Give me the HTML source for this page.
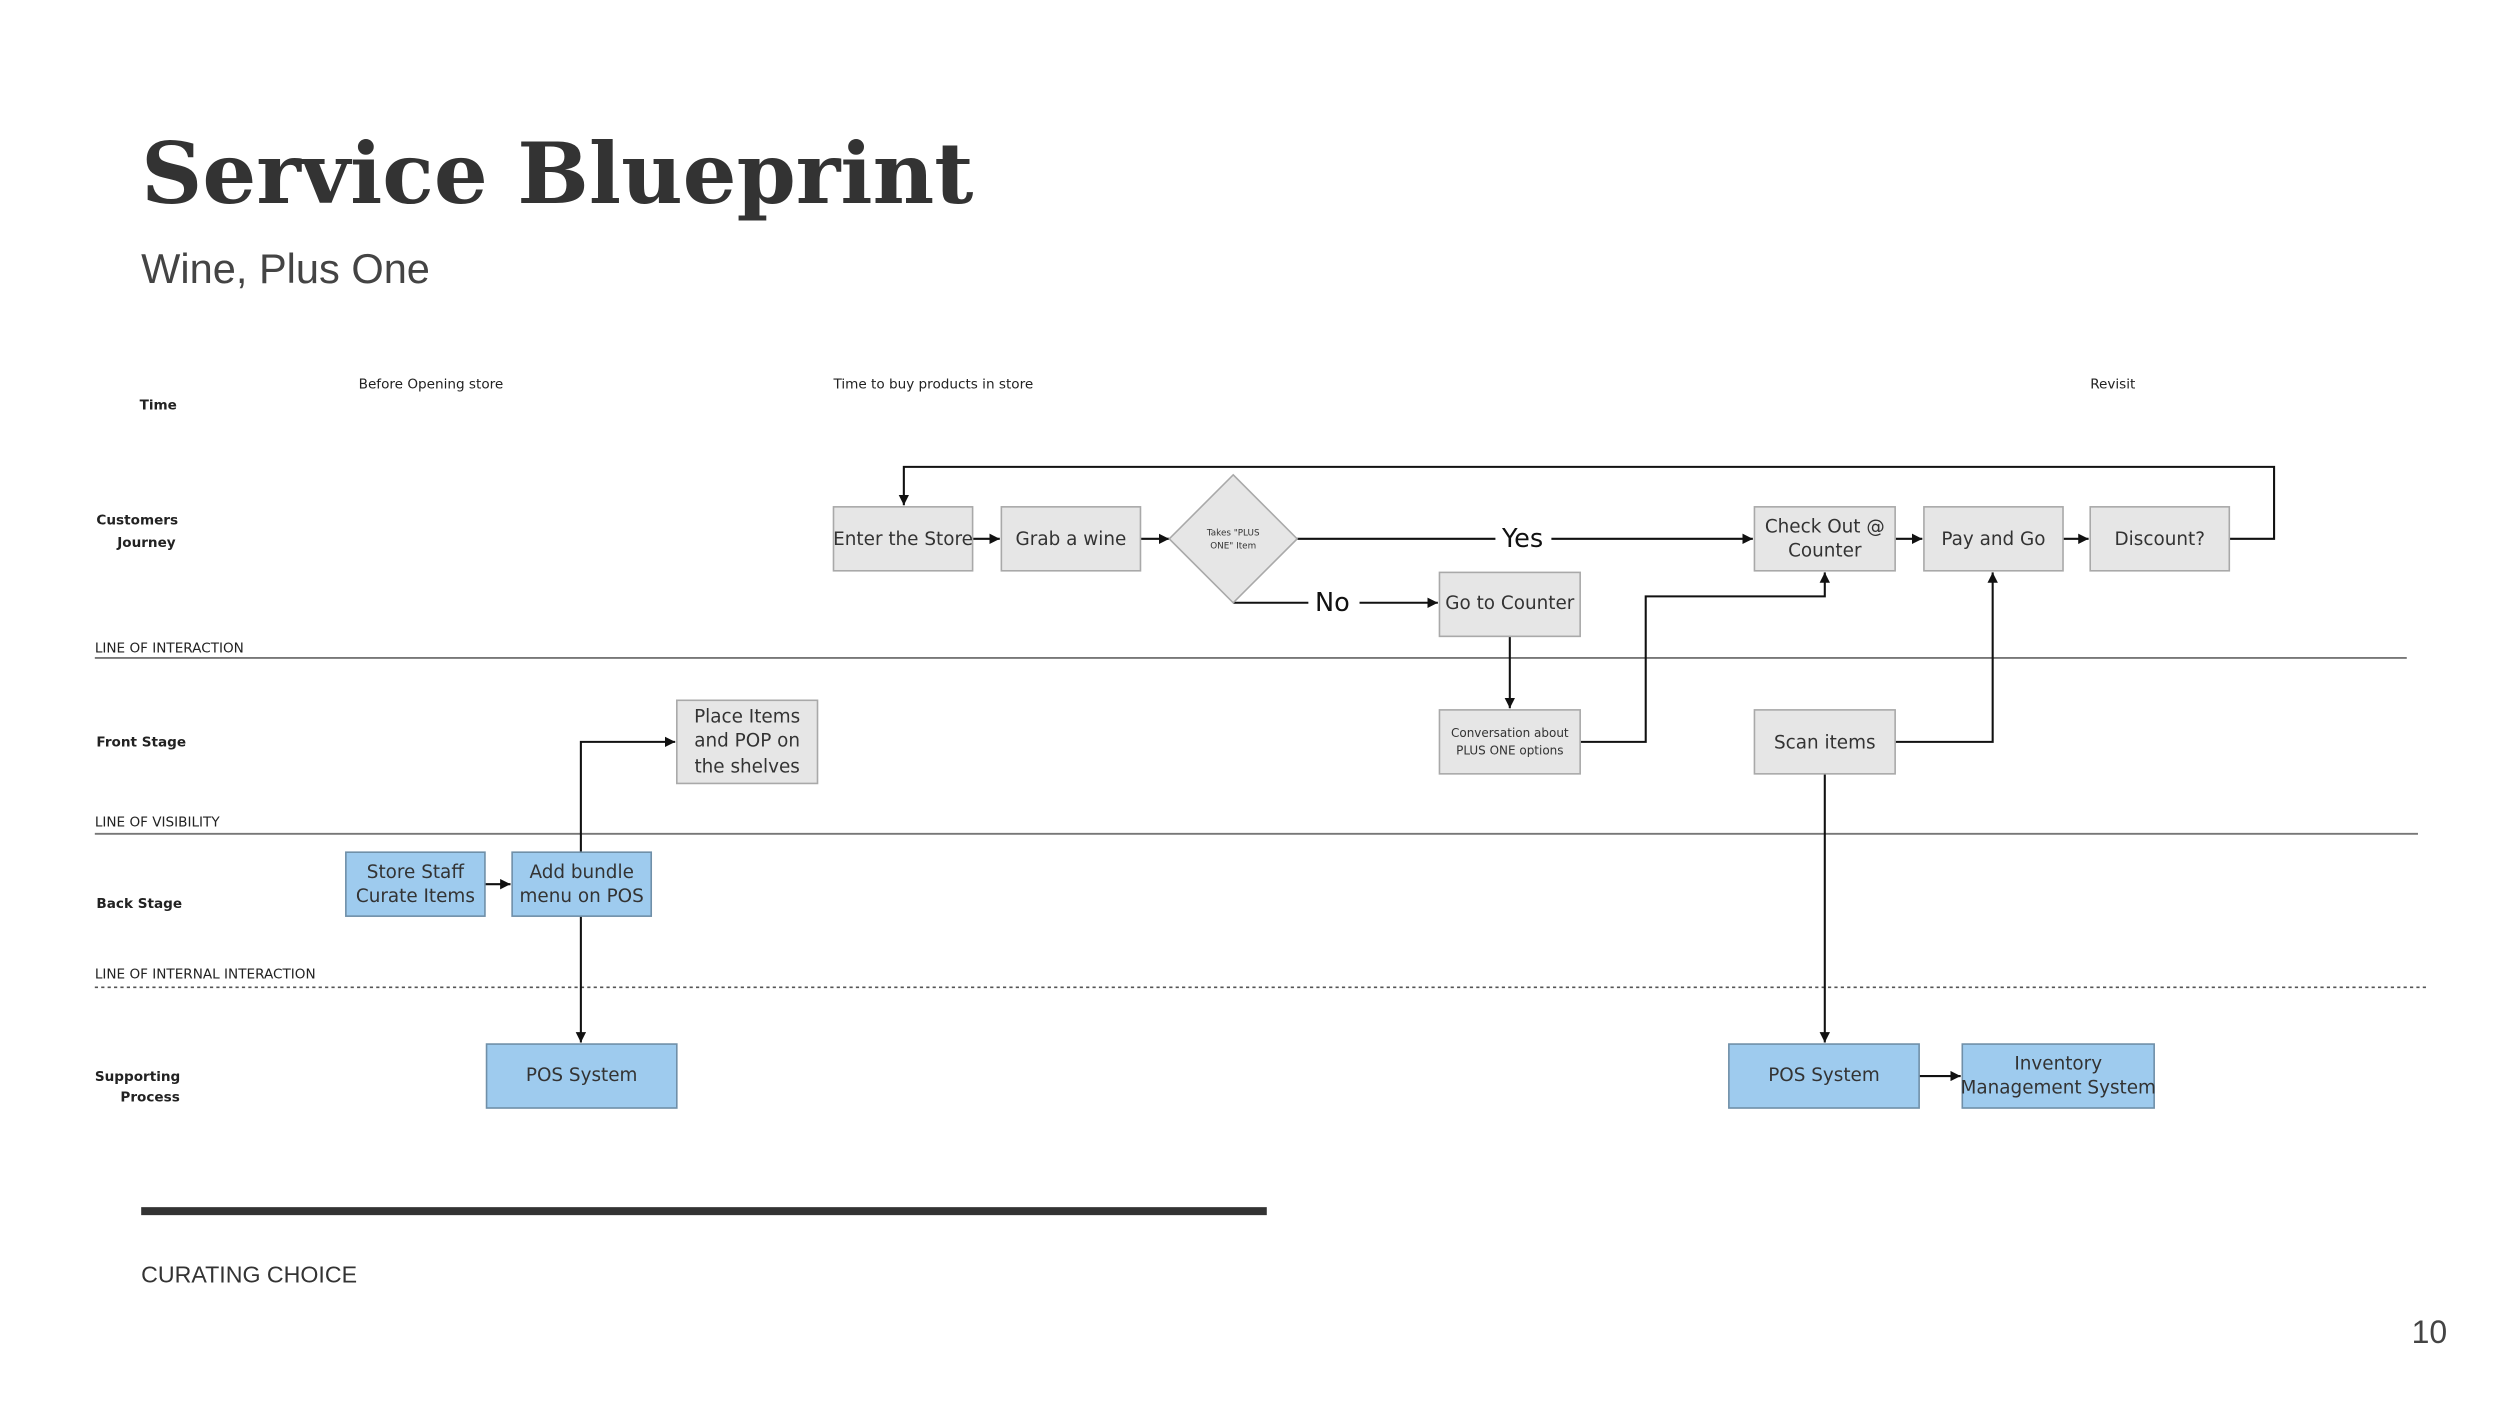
<!DOCTYPE html>
<html><head><meta charset="utf-8"><style>
html,body{margin:0;padding:0;background:#fff;}
svg{display:block}
text{font-family:"DejaVu Sans","Liberation Sans",sans-serif;fill:#333}
.lab{font-size:8.5px;fill:#222}
.b{font-weight:bold}
.bx{font-size:11.5px;fill:#333}
.g{fill:#e6e6e6;stroke:#a9a9a9;stroke-width:1}
.bl{fill:#9ecbee;stroke:#6f8fa8;stroke-width:1}
.ln{stroke:#111;stroke-width:1.3;fill:none}
</style></head><body>
<svg width="2500" height="1407" viewBox="0 0 1563 880" xmlns="http://www.w3.org/2000/svg">
<defs><marker id="a" viewBox="0 0 10 10" refX="10" refY="5" markerWidth="5" markerHeight="5" orient="auto"><path d="M0,0L10,5L0,10z" fill="#111"/></marker></defs>
<rect width="1563" height="880" fill="#fff"/>
<text x="88" y="127" style="font-family:'DejaVu Serif','Liberation Serif',serif;font-weight:bold;font-size:53px;fill:#333">Service Blueprint</text>
<text x="88" y="177" style="font-family:'Liberation Sans',sans-serif;font-size:26px;fill:#444">Wine, Plus One</text>

<text class="lab b" x="87" y="256">Time</text>
<text class="lab" x="224" y="243">Before Opening store</text>
<text class="lab" x="521" y="243">Time to buy products in store</text>
<text class="lab" x="1307" y="243">Revisit</text>
<text class="lab b" x="60" y="328">Customers</text>
<text class="lab b" x="73" y="342">Journey</text>
<text class="lab" x="59" y="408">LINE OF INTERACTION</text>
<line x1="59" y1="411.5" x2="1505" y2="411.5" stroke="#777" stroke-width="1.2"/>
<text class="lab b" x="60" y="467">Front Stage</text>
<text class="lab" x="59" y="517">LINE OF VISIBILITY</text>
<line x1="59" y1="521.5" x2="1512" y2="521.5" stroke="#777" stroke-width="1.2"/>
<text class="lab b" x="60" y="568">Back Stage</text>
<text class="lab" x="59" y="612">LINE OF INTERNAL INTERACTION</text>
<line x1="59" y1="617.5" x2="1518" y2="617.5" stroke="#555" stroke-width="1" stroke-dasharray="2,2"/>
<text class="lab b" x="59" y="676">Supporting</text>
<text class="lab b" x="75" y="689">Process</text>

<!-- connectors -->
<path class="ln" d="M1394,337H1422V292H565V316" marker-end="url(#a)"/>
<path class="ln" d="M608,337H625" marker-end="url(#a)"/>
<path class="ln" d="M713,337H731" marker-end="url(#a)"/>
<path class="ln" d="M811,337H935M970,337H1096" marker-end="url(#a)"/>
<path class="ln" d="M771,377H818M850,377H899" marker-end="url(#a)"/>
<path class="ln" d="M944,398V443" marker-end="url(#a)"/>
<path class="ln" d="M988,464H1029V373H1141V358" marker-end="url(#a)"/>
<path class="ln" d="M1185,337H1202" marker-end="url(#a)"/>
<path class="ln" d="M1290,337H1306" marker-end="url(#a)"/>
<path class="ln" d="M1185,464H1246V358" marker-end="url(#a)"/>
<path class="ln" d="M1141,484V652" marker-end="url(#a)"/>
<path class="ln" d="M1200,673H1226" marker-end="url(#a)"/>
<path class="ln" d="M303,553H319" marker-end="url(#a)"/>
<path class="ln" d="M363,533V464H422" marker-end="url(#a)"/>
<path class="ln" d="M363,573V652" marker-end="url(#a)"/>

<!-- boxes -->
<rect class="g" x="521" y="317" width="87" height="40"/><text class="bx" x="564.5" y="341" text-anchor="middle">Enter the Store</text>
<rect class="g" x="626" y="317" width="87" height="40"/><text class="bx" x="669.5" y="341" text-anchor="middle">Grab a wine</text>
<path d="M771,297L811,337L771,377L731,337z" fill="#e6e6e6" stroke="#a9a9a9"/>
<text x="771" y="335" text-anchor="middle" style="font-size:5.5px">Takes "PLUS</text>
<text x="771" y="343" text-anchor="middle" style="font-size:5.5px">ONE" Item</text>
<text x="952" y="342" text-anchor="middle" style="font-size:16px;fill:#111">Yes</text>
<text x="833" y="382" text-anchor="middle" style="font-size:16px;fill:#111">No</text>
<rect class="g" x="900" y="358" width="88" height="40"/><text class="bx" x="944" y="381" text-anchor="middle">Go to Counter</text>
<rect class="g" x="900" y="444" width="88" height="40"/><text x="944" y="461" text-anchor="middle" style="font-size:7.5px">Conversation about</text><text x="944" y="472" text-anchor="middle" style="font-size:7.5px">PLUS ONE options</text>
<rect class="g" x="1097" y="317" width="88" height="40"/><text class="bx" x="1141" y="333" text-anchor="middle">Check Out @</text><text class="bx" x="1141" y="348" text-anchor="middle">Counter</text>
<rect class="g" x="1203" y="317" width="87" height="40"/><text class="bx" x="1246.5" y="341" text-anchor="middle">Pay and Go</text>
<rect class="g" x="1307" y="317" width="87" height="40"/><text class="bx" x="1350.5" y="341" text-anchor="middle">Discount?</text>
<rect class="g" x="1097" y="444" width="88" height="40"/><text class="bx" x="1141" y="468" text-anchor="middle">Scan items</text>
<rect class="g" x="423" y="438" width="88" height="52"/><text class="bx" x="467" y="452" text-anchor="middle">Place Items</text><text class="bx" x="467" y="467" text-anchor="middle">and POP on</text><text class="bx" x="467" y="483" text-anchor="middle">the shelves</text>
<rect class="bl" x="216" y="533" width="87" height="40"/><text class="bx" x="259.5" y="549" text-anchor="middle">Store Staff</text><text class="bx" x="259.5" y="564" text-anchor="middle">Curate Items</text>
<rect class="bl" x="320" y="533" width="87" height="40"/><text class="bx" x="363.5" y="549" text-anchor="middle">Add bundle</text><text class="bx" x="363.5" y="564" text-anchor="middle">menu on POS</text>
<rect class="bl" x="304" y="653" width="119" height="40"/><text class="bx" x="363.5" y="676" text-anchor="middle">POS System</text>
<rect class="bl" x="1081" y="653" width="119" height="40"/><text class="bx" x="1140.5" y="676" text-anchor="middle">POS System</text>
<rect class="bl" x="1227" y="653" width="120" height="40"/><text class="bx" x="1287" y="669" text-anchor="middle">Inventory</text><text class="bx" x="1287" y="684" text-anchor="middle">Management System</text>

<rect x="88" y="755" width="704" height="5" fill="#333"/>
<text x="88" y="802" style="font-family:'Liberation Sans',sans-serif;font-size:14.5px;fill:#333">CURATING CHOICE</text>
<text x="1508" y="840" style="font-family:'Liberation Sans',sans-serif;font-size:20px;fill:#444">10</text>
</svg>
</body></html>
